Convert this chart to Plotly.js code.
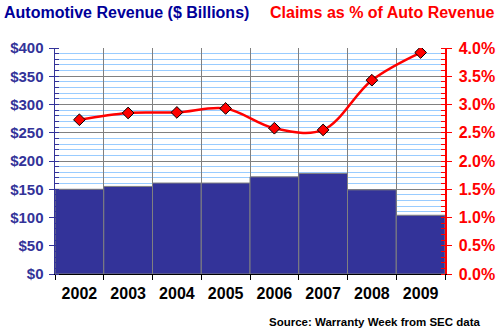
<!DOCTYPE html>
<html><head><meta charset="utf-8">
<script src="https://cdn.plot.ly/plotly-3.0.1.min.js"></script>
<style>html,body{margin:0;padding:0;background:#fff}#chart{width:500px;height:334px}</style>
</head><body><div id="chart"></div>
<script>
const years = ["2002","2003","2004","2005","2006","2007","2008","2009"];
const revenue = [150, 155, 161, 161, 172, 178, 149, 104];
const claimsPct = [2.73, 2.85, 2.86, 2.93, 2.58, 2.55, 3.43, 3.92];
const leftTitle = "Automotive Revenue ($ Billions)";
const rightTitle = "Claims as % of Auto Revenue";
const source = "Source: Warranty Week from SEC data";

const FONT = "Arial, 'Liberation Sans', sans-serif";

const traces = [
  {
    type: "bar", x: years, y: revenue, name: "Revenue",
    marker: {color: "#333399", line: {color: "#808080", width: 1}},
    width: 1, hoverinfo: "skip"
  },
  {
    type: "scatter", mode: "lines+markers", x: years, y: claimsPct, yaxis: "y2",
    line: {color: "#ff0000", width: 2.5, shape: "spline", smoothing: 1},
    marker: {symbol: "diamond", size: 9, color: "#ff0000", line: {color: "#000000", width: 1}},
    hoverinfo: "skip"
  }
];

const layout = {
  width: 500, height: 334,
  margin: {l: 55, r: 55, t: 48, b: 60},
  paper_bgcolor: "#ffffff", plot_bgcolor: "#ffffff",
  showlegend: false,
  bargap: 0,
  font: {family: FONT},
  xaxis: {
    type: "category", tickson: "boundaries",
    showline: true, linecolor: "#000000", linewidth: 1,
    ticks: "outside", ticklen: 5, tickcolor: "#000000",
    ticklabelstandoff: 5,
    showgrid: true, gridcolor: "#808080", gridwidth: 1,
    tickfont: {family: FONT, size: 16, color: "#000000", weight: "bold"},
    range: [-0.5, 7.5], fixedrange: true
  },
  yaxis: {
    range: [0, 400], dtick: 50, tickprefix: "$",
    showline: true, linecolor: "#333399", linewidth: 1.5,
    ticks: "outside", ticklen: 5, tickcolor: "#333399",
    ticklabelstandoff: 2,
    showgrid: true, gridcolor: "#808080", gridwidth: 1,
    zeroline: false,
    minor: {dtick: 10, showgrid: true, gridcolor: "#99ccff", gridwidth: 1, ticks: "inside", ticklen: 4, tickcolor: "#333399"},
    tickfont: {family: FONT, size: 15, color: "#333399", weight: "bold"},
    fixedrange: true
  },
  yaxis2: {
    overlaying: "y", side: "right",
    range: [0, 4], dtick: 0.5, tickformat: ".1f", ticksuffix: "%",
    showline: true, linecolor: "#ff0000", linewidth: 1.5,
    ticks: "outside", ticklen: 5, tickcolor: "#ff0000",
    ticklabelstandoff: 4,
    showgrid: false, zeroline: false,
    minor: {dtick: 0.1, showgrid: false, ticks: "inside", ticklen: 4, tickcolor: "#ff0000"},
    tickfont: {family: FONT, size: 16, color: "#ff0000", weight: "bold"},
    fixedrange: true
  },
  annotations: [
    {text: leftTitle, xref: "paper", yref: "paper", x: -0.135, y: 1.157, xanchor: "left", yanchor: "middle",
     showarrow: false, font: {family: FONT, size: 16, color: "#000099", weight: "bold"}},
    {text: rightTitle, xref: "paper", yref: "paper", x: 1.13, y: 1.157, xanchor: "right", yanchor: "middle",
     showarrow: false, font: {family: FONT, size: 16, color: "#ff0000", weight: "bold"}},
    {text: source, xref: "paper", yref: "paper", x: 1.095, y: -0.212, xanchor: "right", yanchor: "middle",
     showarrow: false, font: {family: FONT, size: 11.5, color: "#000000", weight: "bold"}}
  ]
};

Plotly.newPlot("chart", traces, layout, {staticPlot: true, displayModeBar: false});
</script>
</body></html>
